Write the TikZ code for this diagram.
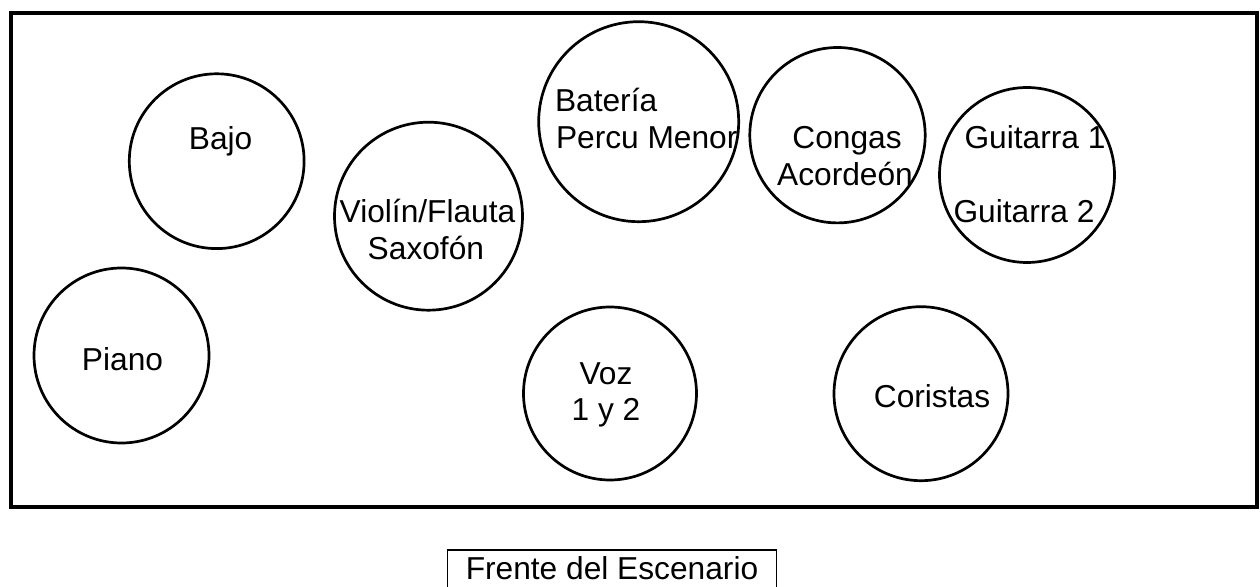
\documentclass[tikz,border=0pt]{standalone}
\usepackage{fontspec}
\setmainfont{Liberation Sans}
\begin{document}
\begin{tikzpicture}[x=0.5pt,y=-0.5pt,
  every node/.style={font=\fontsize{15.85pt}{19pt}\selectfont, inner sep=0pt, outer sep=0pt},
  spot/.style={draw, circle, line width=1.35pt, minimum size=#1*1pt},
  lbl/.style={anchor=base},
  lblw/.style={anchor=base west},
  stage/.style={draw, line width=2pt},
  frontbox/.style={draw, line width=0.6pt, anchor=base, minimum width=164.85pt, text height=15pt, text depth=7.5pt}
]
\useasboundingbox (0,0) rectangle (1260,587);
\clip (0,0) rectangle (1260,587);
% stage outline
\draw[stage] (10.5,12.8) rectangle (1257,507.5);
% positions
\node[spot=87.4] (bajo) at (216.7,161.2) {};
\node[spot=94] (violin) at (428.5,216.2) {};
\node[spot=100] (bateria) at (638.7,121.7) {};
\node[spot=87.7] (congas) at (837.5,135.2) {};
\node[spot=87.5] (guitarra) at (1027,175) {};
\node[spot=87.5] (piano) at (121.5,355.5) {};
\node[spot=86.5] (voz) at (610,393.5) {};
\node[spot=87] (coristas) at (921,393.7) {};
% labels
\node[lbl] (tbajo) at (220.6,150) {Bajo};
\node[lbl] (tviolin1) at (427.5,222.7) {Violín/Flauta};
\node[lbl] (tviolin2) at (425.9,260) {Saxofón};
\node[lblw] (tbat1) at (555,111.7) {Batería};
\node[lblw] (tbat2) at (556,148.3) {Percu Menor};
\node[lbl] (tcongas1) at (847,148.3) {Congas};
\node[lbl] (tcongas2) at (845,186) {Acordeón};
\node[lbl] (tguit1) at (1035,148.3) {Guitarra 1};
\node[lbl] (tguit2) at (1024,222.7) {Guitarra 2};
\node[lbl] (tpiano) at (122.5,370.7) {Piano};
\node[lbl] (tvoz1) at (606,385) {Voz};
\node[lbl] (tvoz2) at (606,420.7) {1 y 2};
\node[lbl] (tcoristas) at (932,407.3) {Coristas};
% front of stage
\node[frontbox] (front) at (612,580) {Frente del Escenario};
\end{tikzpicture}
\end{document}
